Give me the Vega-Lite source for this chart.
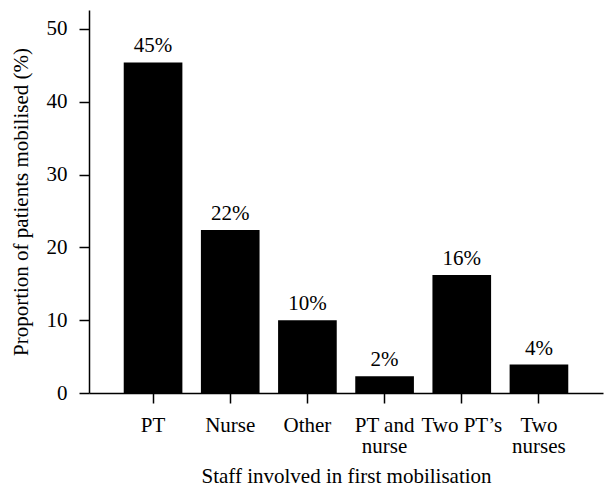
{
  "$schema": "https://vega.github.io/schema/vega-lite/v6.json",
  "width": 514,
  "height": 383,
  "autosize": "none",
  "padding": {"left": 89, "top": 10, "right": 1, "bottom": 94},
  "background": "white",
  "config": {
    "view": {"stroke": null},
    "font": "Liberation Serif",
    "axis": {"grid": false, "domainColor": "black", "tickColor": "black", "labelColor": "black", "titleColor": "black", "labelFont": "Liberation Serif", "titleFont": "Liberation Serif", "labelFontSize": 21, "titleFontSize": 21, "titleFontWeight": "normal", "domainWidth": 1.5, "tickWidth": 1.5, "tickSize": 10}
  },
  "data": {
    "values": [
      {"staff": "PT", "pct": 45.4, "label": "45%"},
      {"staff": "Nurse", "pct": 22.4, "label": "22%"},
      {"staff": "Other", "pct": 10.0, "label": "10%"},
      {"staff": "PT and|nurse", "pct": 2.3, "label": "2%"},
      {"staff": "Two PT’s", "pct": 16.2, "label": "16%"},
      {"staff": "Two|nurses", "pct": 3.9, "label": "4%"}
    ]
  },
  "encoding": {
    "x": {
      "field": "staff", "type": "nominal", "sort": null,
      "scale": {"paddingInner": 0.24, "paddingOuter": 0.45},
      "axis": {"title": "Staff involved in first mobilisation", "labelAngle": 0, "labelExpr": "split(datum.label, '|')", "labelPadding": 11, "labelLineHeight": 21, "titlePadding": 9}
    },
    "y": {
      "field": "pct", "type": "quantitative",
      "scale": {"domain": [0, 52.6], "nice": false},
      "axis": {"title": "Proportion of patients mobilised (%)", "values": [0, 10, 20, 30, 40, 50], "labelPadding": 12, "titlePadding": 15}
    }
  },
  "layer": [
    {"mark": {"type": "bar", "color": "black"}},
    {"mark": {"type": "text", "baseline": "bottom", "dy": -6, "fontSize": 21, "color": "black"}, "encoding": {"text": {"field": "label"}}}
  ]
}
